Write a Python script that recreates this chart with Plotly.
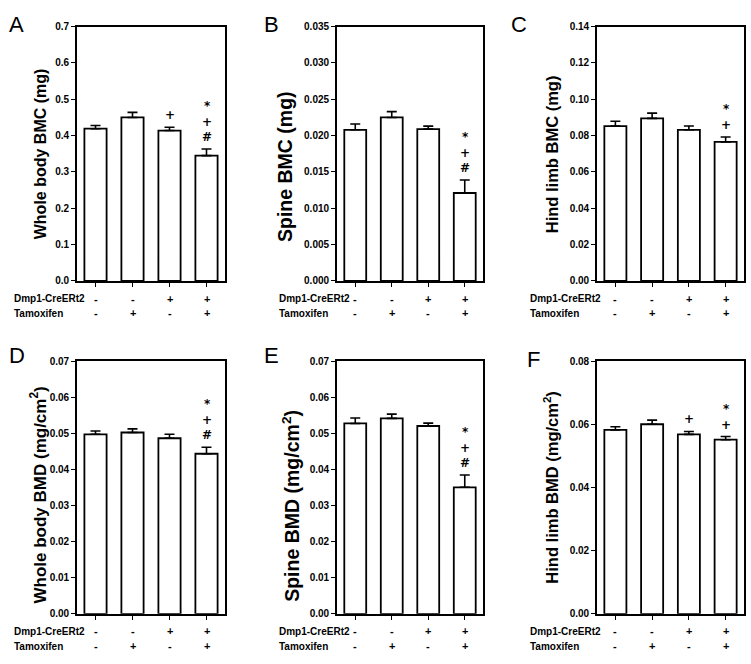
import plotly.graph_objects as go

W, H = 751, 664

groups = [0, 1, 2, 3]
dmp1 = ["-", "-", "+", "+"]
tamoxifen = ["-", "+", "-", "+"]

# bar means and upper SEM
wb_bmc = [0.419, 0.450, 0.414, 0.345]
wb_bmc_err = [0.009, 0.014, 0.009, 0.018]
spine_bmc = [0.0208, 0.0225, 0.0209, 0.0121]
spine_bmc_err = [0.0008, 0.0008, 0.0004, 0.0018]
hind_bmc = [0.0852, 0.0895, 0.0832, 0.0765]
hind_bmc_err = [0.0027, 0.0029, 0.0021, 0.0027]
wb_bmd = [0.0498, 0.0503, 0.0487, 0.0444]
wb_bmd_err = [0.0009, 0.0010, 0.0011, 0.0018]
spine_bmd = [0.0528, 0.0542, 0.0521, 0.0351]
spine_bmd_err = [0.0015, 0.0012, 0.0008, 0.0034]
hind_bmd = [0.0583, 0.0601, 0.0569, 0.0552]
hind_bmd_err = [0.0010, 0.0013, 0.0009, 0.0010]

# significance marks per bar, top to bottom
sig_a = [[], [], ["+"], ["*", "+", "#"]]
sig_b = [[], [], [], ["*", "+", "#"]]
sig_c = [[], [], [], ["*", "+"]]
sig_d = [[], [], [], ["*", "+", "#"]]
sig_e = [[], [], [], ["*", "+", "#"]]
sig_f = [[], [], ["+"], ["*", "+"]]

panels = [
    dict(letter="A", y=wb_bmc, err=wb_bmc_err, sig=sig_a, title="Whole body BMC (mg)",
         ymax=0.7, dtick=0.1, fmt=".1f"),
    dict(letter="B", y=spine_bmc, err=spine_bmc_err, sig=sig_b, title="Spine BMC (mg)",
         ymax=0.035, dtick=0.005, fmt=".3f"),
    dict(letter="C", y=hind_bmc, err=hind_bmc_err, sig=sig_c, title="Hind limb BMC (mg)",
         ymax=0.14, dtick=0.02, fmt=".2f"),
    dict(letter="D", y=wb_bmd, err=wb_bmd_err, sig=sig_d, title="Whole body BMD (mg/cm<sup>2</sup>)",
         ymax=0.07, dtick=0.01, fmt=".2f"),
    dict(letter="E", y=spine_bmd, err=spine_bmd_err, sig=sig_e, title="Spine BMD (mg/cm<sup>2</sup>)",
         ymax=0.07, dtick=0.01, fmt=".2f"),
    dict(letter="F", y=hind_bmd, err=hind_bmd_err, sig=sig_f, title="Hind limb BMD (mg/cm<sup>2</sup>)",
         ymax=0.08, dtick=0.02, fmt=".2f"),
]

# layout in pixels
cols = [(77, 225), (337, 483), (597, 744)]
rows = [(21, 280), (362, 619)]
title_pos = [(40, 151), (285, 164), (552, 151), (38.5, 498), (291, 509), (551.5, 490)]
title_size = [16, 19.5, 16.5, 17, 19.5, 16.5]
letter_pos = [(7, 4), (262, 4), (509, 4), (7, 341), (262, 341), (525, 345)]
label_x = [12, 277, 528]

def px(x):
    return x / W

def py(y):
    return 1 - y / H

FONT = "Liberation Sans, Arial, sans-serif"
MARK_FONT = "DejaVu Sans, sans-serif"

fig = go.Figure()
annotations = []

for i, p in enumerate(panels):
    r, c = divmod(i, 3)
    n = i + 1
    xa = "x" if n == 1 else f"x{n}"
    ya = "y" if n == 1 else f"y{n}"
    x0, x1 = cols[c]
    y0, y1 = rows[r]

    fig.add_trace(go.Bar(
        x=groups, y=p["y"], xaxis=xa, yaxis=ya,
        marker=dict(color="white", line=dict(color="black", width=1.8)),
        error_y=dict(type="data", symmetric=False, array=p["err"],
                     arrayminus=[0] * len(p["err"]), color="black",
                     thickness=1.6, width=5),
        showlegend=False, hoverinfo="skip",
    ))

    ticks = [round(k * p["dtick"], 4) for k in range(int(round(p["ymax"] / p["dtick"])) + 1)]
    fig.update_layout(**{
        ("xaxis" if n == 1 else f"xaxis{n}"): dict(
            domain=[px(x0), px(x1)], anchor=ya, range=[-0.5, 3.5],
            tickvals=groups, showticklabels=False, ticks="outside", ticklen=4,
            tickwidth=1, tickcolor="black", showline=True, linecolor="black",
            linewidth=1.8, mirror=True, showgrid=False, zeroline=False, fixedrange=True),
        ("yaxis" if n == 1 else f"yaxis{n}"): dict(
            domain=[py(y1), py(y0)], anchor=xa, range=[0, p["ymax"]],
            tickvals=ticks, tickformat=p["fmt"], ticks="outside", ticklen=4,
            tickwidth=1, tickcolor="black", showline=True, linecolor="black",
            linewidth=1.8, mirror=True, showgrid=False, zeroline=False,
            tickfont=dict(family=FONT, size=10, color="black", weight="bold"),
            fixedrange=True),
    })

    # y axis title
    tx, ty = title_pos[i]
    annotations.append(dict(
        text=f"<b>{p['title']}</b>", x=px(tx), y=py(ty),
        xref="paper", yref="paper", textangle=-90, showarrow=False,
        xanchor="center", yanchor="middle",
        font=dict(family=FONT, size=title_size[i], color="black")))

    # panel letter
    lx, ly = letter_pos[i]
    annotations.append(dict(
        text=p["letter"], x=px(lx), y=py(ly), xref="paper", yref="paper",
        showarrow=False, xanchor="left", yanchor="top",
        font=dict(family=FONT, size=22, color="black")))

    # treatment table below the axis
    for k, lab in enumerate(["Dmp1-CreERt2", "Tamoxifen"]):
        yy = py(y1 + 18 + 15 * k)
        annotations.append(dict(
            text=f"<b>{lab}</b>", x=px(label_x[c]), y=yy, xref="paper", yref="paper",
            showarrow=False, xanchor="left", yanchor="middle",
            font=dict(family=FONT, size=10, color="black")))
        signs = dmp1 if k == 0 else tamoxifen
        for g, s in zip(groups, signs):
            annotations.append(dict(
                text=f"<b>{s}</b>", x=g, y=yy, xref=xa, yref="paper",
                showarrow=False, xanchor="center", yanchor="middle",
                font=dict(family=FONT, size=11, color="black")))

    # significance marks stacked above error bars
    for g, marks in zip(groups, p["sig"]):
        if not marks:
            continue
        annotations.append(dict(
            text="<b>" + "<br>".join(marks) + "</b>", x=g, y=p["y"][g] + p["err"][g],
            xref=xa, yref=ya, showarrow=False, xanchor="center", yanchor="bottom",
            yshift=3, font=dict(family=MARK_FONT, size=12, color="black")))

fig.update_layout(
    width=W, height=H, autosize=False,
    margin=dict(l=0, r=0, t=0, b=0),
    paper_bgcolor="white", plot_bgcolor="white",
    bargap=0.4, annotations=annotations,
)

fig.write_html("out.html", config={"displayModeBar": False},
               post_script="document.body.style.margin='0';")
